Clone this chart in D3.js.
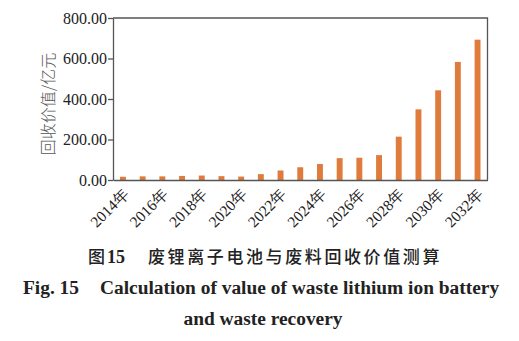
<!DOCTYPE html>
<html>
<head>
<meta charset="utf-8">
<script src="https://cdn.jsdelivr.net/npm/d3@7"></script>
<style>
  html, body { margin: 0; padding: 0; background: #fff; }
  svg { display: block; }
</style>
</head>
<body>
<svg id="chart" width="519" height="341"></svg>
<script>
const years = ["2014","2015","2016","2017","2018","2019","2020","2021","2022","2023","2024","2025","2026","2027","2028","2029","2030","2031","2032"];
const values = [16, 18, 18, 20, 22, 19, 17, 29, 47, 63, 79, 108, 110, 123, 214, 349, 443, 583, 693];
const yTicks = [0, 200, 400, 600, 800];
const labelYears = ["2014","2016","2018","2020","2022","2024","2026","2028","2030","2032"];
const yTitle = "回收价值/亿元";
const captionCN_num = "图15";
const captionCN = "废锂离子电池与废料回收价值测算";
const captionEN1a = "Fig. 15";
const captionEN1b = "Calculation of value of waste lithium ion battery";
const captionEN2 = "and waste recovery";

const svg = d3.select("#chart");
const L = 113, R = 487.5, T = 18, B = 180;
const serif = "Liberation Serif";
const cjk = "Noto Sans CJK SC";
const axisColor = "#555";

const x = d3.scaleBand().domain(years).range([L, R]).paddingInner(0.7).paddingOuter(0.355);
const y = d3.scaleLinear().domain([0, 800]).range([B, T]);

// bars
svg.append("g").selectAll("rect").data(years).join("rect")
  .attr("x", (d) => x(d))
  .attr("width", x.bandwidth())
  .attr("y", (d, i) => y(values[i]))
  .attr("height", (d, i) => y(0) - y(values[i]))
  .attr("fill", "#E07B3E");

// frame (top & right)
svg.append("path")
  .attr("d", `M${L},${T}H${R}V${B}`)
  .attr("fill", "none").attr("stroke", axisColor).attr("stroke-width", 1.3);

// y axis
const gy = svg.append("g").attr("transform", `translate(${L},0)`)
  .call(d3.axisLeft(y).tickValues(yTicks).tickFormat(d3.format(".2f")).tickSize(5).tickPadding(1).tickSizeOuter(0));
gy.select(".domain").attr("stroke", axisColor).attr("stroke-width", 1.3);
gy.selectAll(".tick line").attr("stroke", axisColor).attr("stroke-width", 1.3);
gy.selectAll(".tick text").style("font-family", serif).style("font-size", "16px").attr("fill", "#222");

// x axis
const gx = svg.append("g").attr("transform", `translate(0,${B})`)
  .call(d3.axisBottom(x).tickValues(labelYears).tickFormat(d => d + "年").tickSize(0).tickSizeOuter(0));
gx.select(".domain").attr("stroke", axisColor).attr("stroke-width", 1.3);
gx.selectAll(".tick text")
  .style("font-family", serif).style("font-size", "15.5px").attr("fill", "#222")
  .attr("text-anchor", "end")
  .attr("dy", null)
  .attr("y", 0)
  .attr("transform", "translate(7,15) rotate(-45)");

// y title
svg.append("text")
  .attr("transform", `translate(54,104) rotate(-90)`)
  .attr("text-anchor", "middle")
  .style("font-family", cjk).style("font-size", "16px").style("font-weight", 300)
  .attr("fill", "#555")
  .text(yTitle);

// captions
const cn = svg.append("text").attr("y", 263).attr("text-anchor", "start");
cn.append("tspan").attr("x", 88).style("font-family", cjk).style("font-size", "17px").style("font-weight", 500).attr("fill", "#222").text(captionCN_num.slice(0,1));
cn.append("tspan").attr("dx", 2).style("font-family", serif).style("font-weight", "bold").style("font-size", "18px").attr("fill", "#222").text(captionCN_num.slice(1));
svg.append("text").attr("x", 148).attr("y", 263)
  .style("font-family", cjk).style("font-size", "17px").style("font-weight", 500).attr("letter-spacing", 2.6).attr("fill", "#222")
  .text(captionCN);

const en = (t, xx, yy, anchor) => svg.append("text").attr("x", xx).attr("y", yy).attr("text-anchor", anchor)
  .style("font-family", serif).style("font-weight", "bold").style("font-size", "19.4px").attr("fill", "#222").text(t);
en(captionEN1a, 23, 294, "start");
en(captionEN1b, 100, 294, "start");
en(captionEN2, 263, 325, "middle");
</script>
</body>
</html>
